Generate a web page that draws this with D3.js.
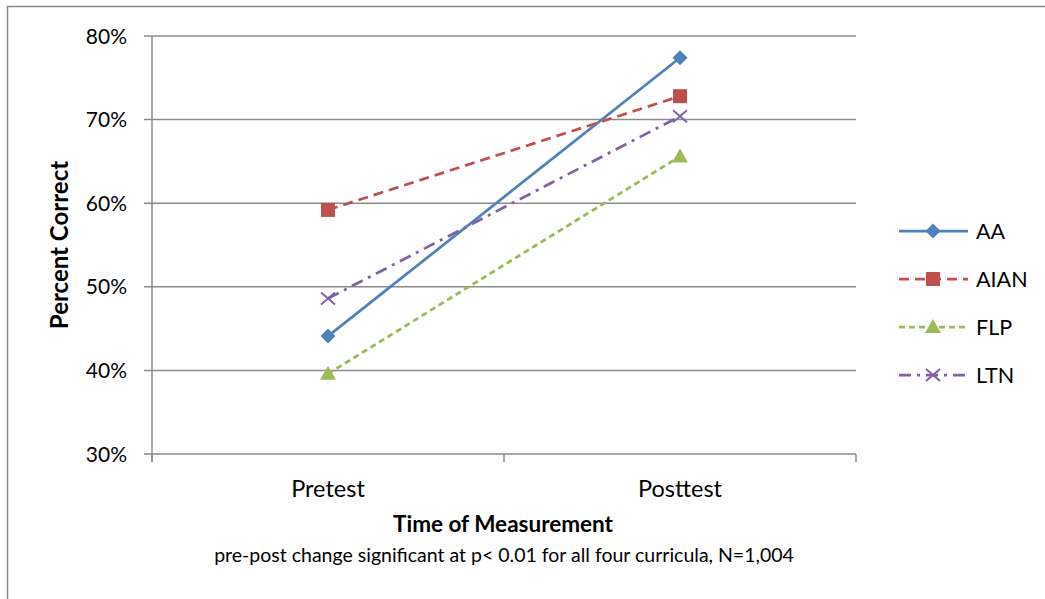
<!DOCTYPE html>
<html><head><meta charset="utf-8">
<script src="https://cdn.jsdelivr.net/npm/d3@7"></script>
<style>body{margin:0;background:#fff}svg{display:block}text{font-family:Lato,"Open Sans",sans-serif}</style>
</head><body><svg id="c" width="1045" height="599"></svg>
<script>
const categories = ["Pretest", "Posttest"];
const seriesNames = ["AA", "AIAN", "FLP", "LTN"];
const aaValues = [44.1, 77.4];
const aianValues = [59.2, 72.8];
const flpValues = [39.6, 65.6];
const ltnValues = [48.6, 70.4];
const yTicks = [30, 40, 50, 60, 70, 80];
const yTickLabels = ["30%", "40%", "50%", "60%", "70%", "80%"];

(function () {
const series = [
  {name: seriesNames[0], values: aaValues, color: "#4F81BD", dash: null, marker: "diamond"},
  {name: seriesNames[1], values: aianValues, color: "#C0504D", dash: "10,6", marker: "square"},
  {name: seriesNames[2], values: flpValues, color: "#9BBB59", dash: "6,4", marker: "triangle"},
  {name: seriesNames[3], values: ltnValues, color: "#8064A2", dash: "12,6,3,6", marker: "x"}
];

const svg = d3.select("#c");
svg.append("path").attr("d", "M7.5,599 V6.5 H1045").attr("fill", "none").attr("stroke", "#888").attr("stroke-width", 1.5);

const pL = 152, pR = 856, pT = 36, pB = 454;
const x = d3.scaleBand().domain(categories).range([pL, pR]).paddingInner(0).paddingOuter(0);
const y = d3.scaleLinear().domain([30, 80]).range([pB, pT]);

const grid = svg.append("g");
yTicks.forEach(t => {
  grid.append("line").attr("x1", pL - 8).attr("x2", pR).attr("y1", y(t)).attr("y2", y(t))
    .attr("stroke", "#8c8c8c").attr("stroke-width", 1.5);
});
grid.append("line").attr("x1", pL).attr("x2", pL).attr("y1", pT).attr("y2", pB + 8)
  .attr("stroke", "#8c8c8c").attr("stroke-width", 1.5);
[pL, pL + x.bandwidth(), pR].forEach(px => {
  grid.append("line").attr("x1", px).attr("x2", px).attr("y1", pB).attr("y2", pB + 8)
    .attr("stroke", "#8c8c8c").attr("stroke-width", 1.5);
});

yTicks.forEach((t, i) => {
  svg.append("text").attr("x", 127).attr("y", y(t)).attr("dy", "0.36em").attr("text-anchor", "end")
    .attr("font-size", 21).attr("fill", "#000").text(yTickLabels[i]);
});
categories.forEach(c => {
  svg.append("text").attr("x", x(c) + x.bandwidth() / 2).attr("y", 497).attr("text-anchor", "middle")
    .attr("font-size", 23.5).attr("fill", "#000").text(c);
});

svg.append("text").attr("transform", "translate(68," + ((pT + pB) / 2) + ") rotate(-90)")
  .attr("text-anchor", "middle").attr("font-size", 24).attr("font-weight", "bold").text("Percent Correct");
svg.append("text").attr("x", 503).attr("y", 532).attr("text-anchor", "middle")
  .attr("font-size", 22.5).attr("font-weight", "bold").text("Time of Measurement");
svg.append("text").attr("x", 504).attr("y", 562).attr("text-anchor", "middle")
  .attr("font-size", 19.5).text("pre-post change significant at p< 0.01 for all four curricula, N=1,004");

function drawMarker(g, type, cx, cy, color) {
  if (type === "diamond") {
    g.append("path").attr("d", `M${cx},${cy-7.5} L${cx+7.5},${cy} L${cx},${cy+7.5} L${cx-7.5},${cy} Z`).attr("fill", color);
  } else if (type === "square") {
    g.append("rect").attr("x", cx - 7).attr("y", cy - 7).attr("width", 14).attr("height", 14).attr("fill", color);
  } else if (type === "triangle") {
    g.append("path").attr("d", `M${cx},${cy-8} L${cx+8},${cy+6} L${cx-8},${cy+6} Z`).attr("fill", color);
  } else {
    g.append("path").attr("d", `M${cx-7},${cy-6} L${cx+7},${cy+6} M${cx-7},${cy+6} L${cx+7},${cy-6}`)
      .attr("stroke", color).attr("stroke-width", 2).attr("fill", "none");
  }
}

const line = d3.line().x((d, i) => x(categories[i]) + x.bandwidth() / 2).y(d => y(d));
series.forEach(s => {
  const g = svg.append("g");
  g.append("path").attr("d", line(s.values)).attr("fill", "none").attr("stroke", s.color)
    .attr("stroke-width", 2.75).attr("stroke-dasharray", s.dash);
  s.values.forEach((v, i) => drawMarker(g, s.marker, x(categories[i]) + x.bandwidth() / 2, y(v), s.color));
});

const legY = [231, 279, 327, 375];
series.forEach((s, i) => {
  const g = svg.append("g");
  g.append("line").attr("x1", 899).attr("x2", 968).attr("y1", legY[i]).attr("y2", legY[i])
    .attr("stroke", s.color).attr("stroke-width", 2.75).attr("stroke-dasharray", s.dash);
  drawMarker(g, s.marker, 933, legY[i], s.color);
  g.append("text").attr("x", 976).attr("y", legY[i]).attr("dy", "0.36em").attr("font-size", 21.5).text(s.name);
});
})();
</script></body></html>
